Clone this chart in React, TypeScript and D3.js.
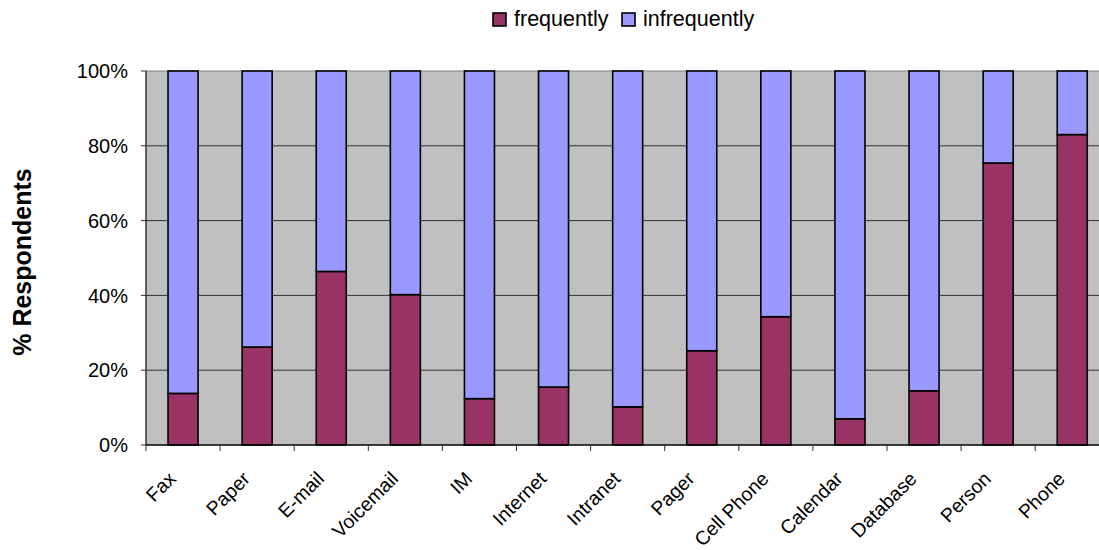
import React from "react";
import * as d3 from "d3";

// Communication channels and share of respondents (percent) using each one
const categories = [
  "Fax", "Paper", "E-mail", "Voicemail", "IM", "Internet", "Intranet",
  "Pager", "Cell Phone", "Calendar", "Database", "Person", "Phone",
];
const frequently = [13.8, 26.2, 46.4, 40.2, 12.4, 15.5, 10.2, 25.2, 34.3, 7.0, 14.5, 75.4, 83.0];
const infrequently = [86.2, 73.8, 53.6, 59.8, 87.6, 84.5, 89.8, 74.8, 65.7, 93.0, 85.5, 24.6, 17.0];
const seriesNames = ["frequently", "infrequently"];
const seriesColors = ["#993366", "#9999FF"];
const yTicks = [0, 0.2, 0.4, 0.6, 0.8, 1.0];

const W = 1099;
const H = 550;
const plotLeft = 146;
const plotTop = 71;
const plotBottom = 445;
const step = 74.1;
const plotRight = plotLeft + step * categories.length;
const font = "Arial, 'Liberation Sans', Helvetica, sans-serif";

export default function App() {
  const rows = categories.map((c, i) => ({
    category: c,
    frequently: frequently[i],
    infrequently: infrequently[i],
  }));
  const stacked = d3.stack<any>().keys(seriesNames).offset(d3.stackOffsetExpand)(rows);

  const x = d3
    .scaleBand<string>()
    .domain(categories)
    .range([plotLeft, plotRight])
    .paddingInner(0.595)
    .paddingOuter(0.2975);
  const y = d3.scaleLinear().domain([0, 1]).range([plotBottom, plotTop]);
  const bandStep = x.step();
  const fmt = d3.format(".0%");

  return (
    <div style={{ position: "absolute", left: 0, top: 0 }}>
      <svg width={W} height={H} style={{ display: "block", fontFamily: font }}>
        <rect x={0} y={0} width={W} height={H} fill="#ffffff" />
        {/* plot background */}
        <rect
          x={plotLeft}
          y={plotTop}
          width={plotRight - plotLeft}
          height={plotBottom - plotTop}
          fill="#C0C0C0"
        />
        {/* horizontal gridlines */}
        {yTicks.slice(1).map((t) => (
          <line
            key={"g" + t}
            x1={plotLeft}
            x2={plotRight}
            y1={y(t)}
            y2={y(t)}
            stroke={t === 1 ? "#808080" : "#333333"}
            strokeWidth={1}
          />
        ))}
        {/* stacked bars */}
        {stacked.map((layer, li) => (
          <g key={layer.key}>
            {layer.map((d, i) => (
              <rect
                key={i}
                x={x(categories[i])!}
                y={y(d[1])}
                width={x.bandwidth()}
                height={y(d[0]) - y(d[1])}
                fill={seriesColors[li]}
                stroke="#000000"
                strokeWidth={1.6}
              />
            ))}
          </g>
        ))}
        {/* y axis */}
        <line x1={plotLeft} x2={plotLeft} y1={plotTop} y2={plotBottom} stroke="#333333" strokeWidth={1.5} />
        {yTicks.map((t) => (
          <g key={"y" + t}>
            <line x1={plotLeft - 5} x2={plotLeft} y1={y(t)} y2={y(t)} stroke="#333333" />
            <text
              x={128}
              y={y(t)}
              dy="0.36em"
              textAnchor="end"
              fontSize={20}
              fill="#000"
            >
              {fmt(t)}
            </text>
          </g>
        ))}
        {/* x axis */}
        <line x1={plotLeft} x2={plotRight} y1={plotBottom} y2={plotBottom} stroke="#000000" strokeWidth={1.5} />
        {categories.map((c, i) => {
          const start = x(c)! - (bandStep - x.bandwidth()) / 2;
          return (
            <line
              key={"xt" + i}
              x1={start}
              x2={start}
              y1={plotBottom}
              y2={plotBottom + 6}
              stroke="#333333"
            />
          );
        })}
        {categories.map((c) => {
          const cx = x(c)! + x.bandwidth() / 2;
          return (
            <text
              key={"xl" + c}
              transform={`translate(${cx - 6},${plotBottom + 35}) rotate(-45)`}
              textAnchor="end"
              fontSize={19.5}
              fill="#000"
            >
              {c}
            </text>
          );
        })}
        {/* y axis title */}
        <text
          transform={`translate(31,${262}) rotate(-90)`}
          textAnchor="middle"
          fontSize={25}
          fontWeight="bold"
          fill="#000"
        >
          % Respondents
        </text>
        {/* legend */}
        {seriesNames.map((s, i) => {
          const lx = [493, 622][i];
          return (
            <g key={"lg" + s}>
              <rect x={lx} y={13} width={13} height={13} fill={seriesColors[i]} stroke="#000" strokeWidth={1.6} />
              <text x={lx + 21} y={26} fontSize={21.5} fill="#000">
                {s}
              </text>
            </g>
          );
        })}
      </svg>
    </div>
  );
}
